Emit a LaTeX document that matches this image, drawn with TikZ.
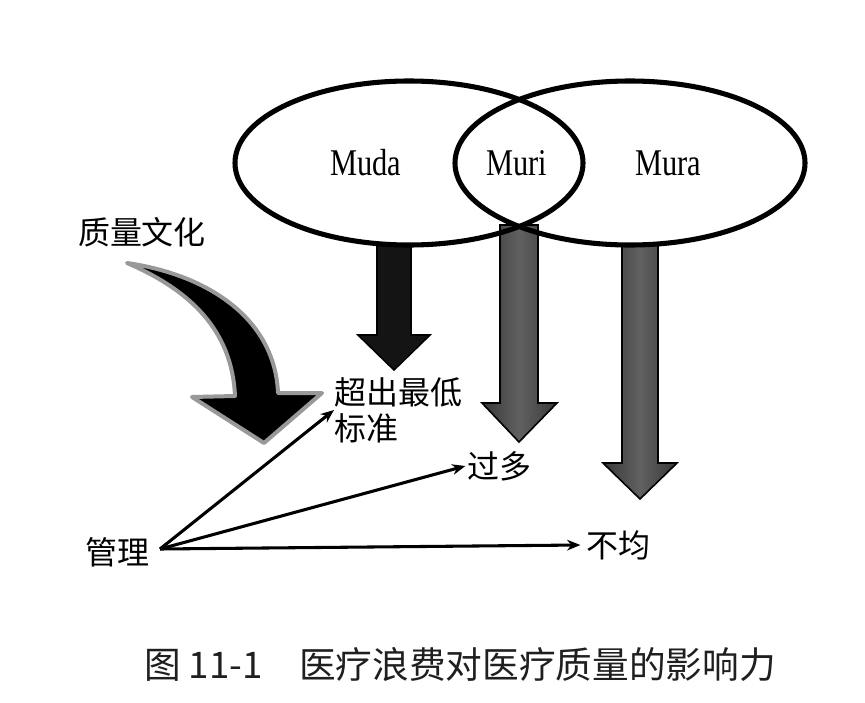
\documentclass[tikz,border=0pt]{standalone}
\usepackage{fontspec}
\setmainfont{Liberation Serif}
\newfontfamily\cjk{Noto Sans CJK SC}
\usetikzlibrary{arrows.meta}
\newcommand{\tallword}[1]{\scalebox{0.95}[1.18]{#1}}
\begin{document}
\begin{tikzpicture}[x=0.75pt,y=-0.75pt,
  lbl/.style={inner sep=0pt,font=\cjk\fontsize{24pt}{27pt}\selectfont},
  mword/.style={inner sep=0pt,font=\fontsize{24pt}{27pt}\selectfont},
  link/.style={line width=2.3pt,-{Stealth[length=10pt,width=8pt]}},
  bigdown/.style={draw=black,line width=1.2pt,line join=miter},
  ring/.style={draw=black,line width=3.8pt}]
\useasboundingbox (0,0) rectangle (865,703);
% down arrows
\draw[bigdown,fill=black!92] (377,244) -- (411,244) -- (411,335) -- (430,335) -- (394,370) -- (358,335) -- (377,335) -- cycle;
\draw[bigdown,left color=black!78,right color=black!78,middle color=black!62] (500,225) -- (538,225) -- (538,403) -- (557,403) -- (519,442) -- (482,403) -- (500,403) -- cycle;
\draw[bigdown,left color=black!78,right color=black!78,middle color=black!62] (622,244) -- (658,244) -- (658,463) -- (677,463) -- (640,499) -- (603,463) -- (622,463) -- cycle;
% ellipses
\draw[ring] (409,163) ellipse [x radius=174,y radius=82];
\draw[ring] (630,163) ellipse [x radius=175,y radius=82];
\node[mword] (muda) at (366,163) {\tallword{Muda}};
\node[mword] (muri) at (517,163) {\tallword{Muri}};
\node[mword] (mura) at (668,163) {\tallword{Mura}};
% curved arrow
\draw[fill=black,draw=black!40,line width=3pt,line join=round]
  (127,263) .. controls (210,275) and (275,320) .. (278,393) -- (322,393) -- (264,443) -- (192,397) -- (235,396)
  .. controls (232,330) and (190,290) .. (127,263) -- cycle;
% labels
\node[lbl] (zl) at (142,232) {质量文化};
\node[lbl,anchor=west,align=left] (cc) at (334,410) {超出最低\\标准};
\node[lbl] (gd) at (499,466) {过多};
\node[lbl] (bj) at (618,545) {不均};
\node[lbl] (gl) at (117,552) {管理};
\coordinate (o) at (160,549);
\draw[link] (o) -- (cc.west);
\draw[link] (o) -- ([xshift=-1pt]gd.west);
\draw[link] (o) -- ([xshift=-4pt]bj.west);
% caption
\node[inner sep=0pt,text=black!88,font=\cjk\fontsize{27.5pt}{30pt}\selectfont] (cap) at (460,665) {图 11-1\hspace{1em}医疗浪费对医疗质量的影响力};
\end{tikzpicture}
\end{document}
